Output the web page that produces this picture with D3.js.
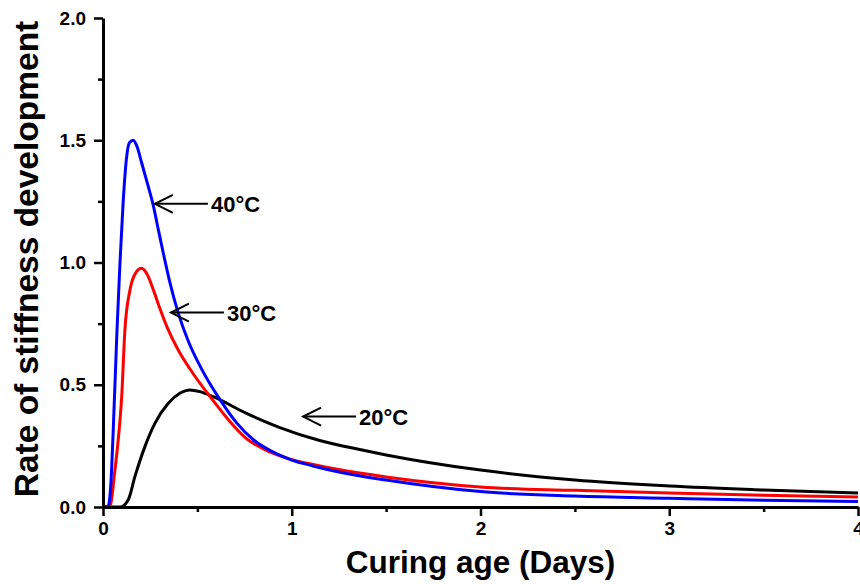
<!DOCTYPE html>
<html>
<head>
<meta charset="utf-8">
<script src="https://cdn.jsdelivr.net/npm/d3@7"></script>
<style>
  body { margin: 0; background: #fff; }
  text { font-family: Arial, "Liberation Sans", sans-serif; font-weight: bold; }
</style>
</head>
<body>
<div id="chart"></div>
<script>
// curing age (days) and rate of stiffness development
const age40 = [0, 0.026, 0.042, 0.053, 0.074, 0.09, 0.107, 0.125, 0.14, 0.16, 0.18, 0.204, 0.24, 0.266, 0.293, 0.319, 0.354, 0.398, 0.451, 0.522, 0.619, 0.707, 0.795, 0.918, 1.0, 1.113, 1.25, 1.5, 2.0, 2.5, 3.0, 3.5, 4.0];
const rate40 = [0, 0, 0.1, 0.29, 0.72, 1.0, 1.25, 1.43, 1.49, 1.50, 1.475, 1.41, 1.31, 1.235, 1.135, 1.04, 0.92, 0.795, 0.68, 0.565, 0.44, 0.345, 0.276, 0.218, 0.192, 0.168, 0.143, 0.11, 0.063, 0.045, 0.036, 0.028, 0.022];

const age30 = [0, 0.035, 0.063, 0.08, 0.099, 0.116, 0.143, 0.175, 0.204, 0.235, 0.266, 0.3, 0.34, 0.4, 0.478, 0.584, 0.672, 0.76, 0.884, 1.0, 1.113, 1.25, 1.5, 2.0, 2.5, 3.0, 3.5, 4.0];
const rate30 = [0, 0, 0.15, 0.27, 0.451, 0.724, 0.888, 0.96, 0.976, 0.95, 0.89, 0.815, 0.735, 0.64, 0.545, 0.435, 0.35, 0.28, 0.225, 0.194, 0.174, 0.153, 0.123, 0.082, 0.068, 0.057, 0.048, 0.041];

const age20 = [0, 0.09, 0.134, 0.169, 0.222, 0.275, 0.346, 0.407, 0.46, 0.513, 0.584, 0.76, 0.937, 1.148, 1.36, 1.5, 2.0, 2.5, 3.0, 3.5, 4.0];
const rate20 = [0, 0, 0.03, 0.124, 0.247, 0.342, 0.424, 0.465, 0.479, 0.472, 0.451, 0.383, 0.325, 0.272, 0.235, 0.213, 0.151, 0.11, 0.086, 0.07, 0.057];

const seriesNames = ["40°C", "30°C", "20°C"];
const seriesColors = ["#0000ff", "#ff0000", "#000000"];
// arrow tip (days, rate) for each label
const arrowTipAge = [0.275, 0.36, 1.06];
const arrowTipRate = [1.24, 0.795, 0.37];

const xMajor = [0, 1, 2, 3, 4];
const xMinor = [0.5, 1.5, 2.5, 3.5];
const yMajor = [0, 0.5, 1.0, 1.5, 2.0];
const yMinor = [0.25, 0.75, 1.25, 1.75];

const width = 860, height = 584;
const margin = { top: 18, right: 2, bottom: 77, left: 103 };

const svg = d3.select('#chart')
  .append('svg')
  .attr('width', width)
  .attr('height', height);

const x = d3.scaleLinear().domain([0, 4]).range([margin.left, width - margin.right]);
const y = d3.scaleLinear().domain([0, 2]).range([height - margin.bottom, margin.top]);

// minor ticks first
svg.append('g')
  .attr('transform', `translate(0, ${y(0)})`)
  .call(d3.axisBottom(x).tickValues(xMinor).tickSize(5).tickSizeOuter(0).tickFormat(''))
  .call(g => g.select('.domain').remove())
  .call(g => g.selectAll('line').attr('stroke-width', 2.5));

svg.append('g')
  .attr('transform', `translate(${x(0)}, 0)`)
  .call(d3.axisLeft(y).tickValues(yMinor).tickSize(5).tickSizeOuter(0).tickFormat(''))
  .call(g => g.select('.domain').remove())
  .call(g => g.selectAll('line').attr('stroke-width', 2.5));

// curves
const line = d3.line()
  .x(d => x(d[0]))
  .y(d => y(d[1]))
  .curve(d3.curveMonotoneX);

const series = [
  d3.zip(age20, rate20),
  d3.zip(age30, rate30),
  d3.zip(age40, rate40)
];
const order = [2, 1, 0];

series.forEach((pts, i) => {
  svg.append('path')
    .datum(pts)
    .attr('fill', 'none')
    .attr('stroke', seriesColors[order[i]])
    .attr('stroke-width', 3)
    .attr('stroke-linejoin', 'round')
    .attr('d', line);
});

// major axes
const xAxis = svg.append('g')
  .attr('transform', `translate(0, ${y(0)})`)
  .call(d3.axisBottom(x).tickValues(xMajor).tickSize(9).tickSizeOuter(0).tickPadding(6).tickFormat(d3.format('d')));

const yAxis = svg.append('g')
  .attr('transform', `translate(${x(0)}, 0)`)
  .call(d3.axisLeft(y).tickValues(yMajor).tickSize(9).tickSizeOuter(0).tickPadding(8).tickFormat(d3.format('.1f')));

[xAxis, yAxis].forEach(g => {
  g.select('.domain').attr('stroke-width', 3);
  g.selectAll('line').attr('stroke-width', 2.5);
  g.selectAll('text')
    .attr('fill', '#000')
    .style('font-size', '19px')
    .style('font-weight', 'bold');
});

// arrows with labels
seriesNames.forEach((name, i) => {
  const tx = x(arrowTipAge[i]);
  const ty = y(arrowTipRate[i]);
  const g = svg.append('g');
  g.append('line')
    .attr('x1', tx).attr('y1', ty)
    .attr('x2', tx + 53).attr('y2', ty)
    .attr('stroke', '#000').attr('stroke-width', 2);
  g.append('path')
    .attr('d', `M${tx + 18},${ty - 9} L${tx},${ty} L${tx + 18},${ty + 9}`)
    .attr('fill', 'none')
    .attr('stroke', '#000')
    .attr('stroke-width', 2);
  g.append('text')
    .attr('x', tx + 56)
    .attr('y', ty + 8)
    .style('font-size', '22px')
    .text(name);
});

// axis titles
svg.append('text')
  .attr('x', (x(0) + x(4)) / 2)
  .attr('y', 573)
  .attr('text-anchor', 'middle')
  .style('font-size', '31.5px')
  .text('Curing age (Days)');

svg.append('text')
  .attr('transform', 'rotate(-90)')
  .attr('x', -259)
  .attr('y', 38)
  .attr('text-anchor', 'middle')
  .style('font-size', '33.5px')
  .text('Rate of stiffness development');
</script>
</body>
</html>
